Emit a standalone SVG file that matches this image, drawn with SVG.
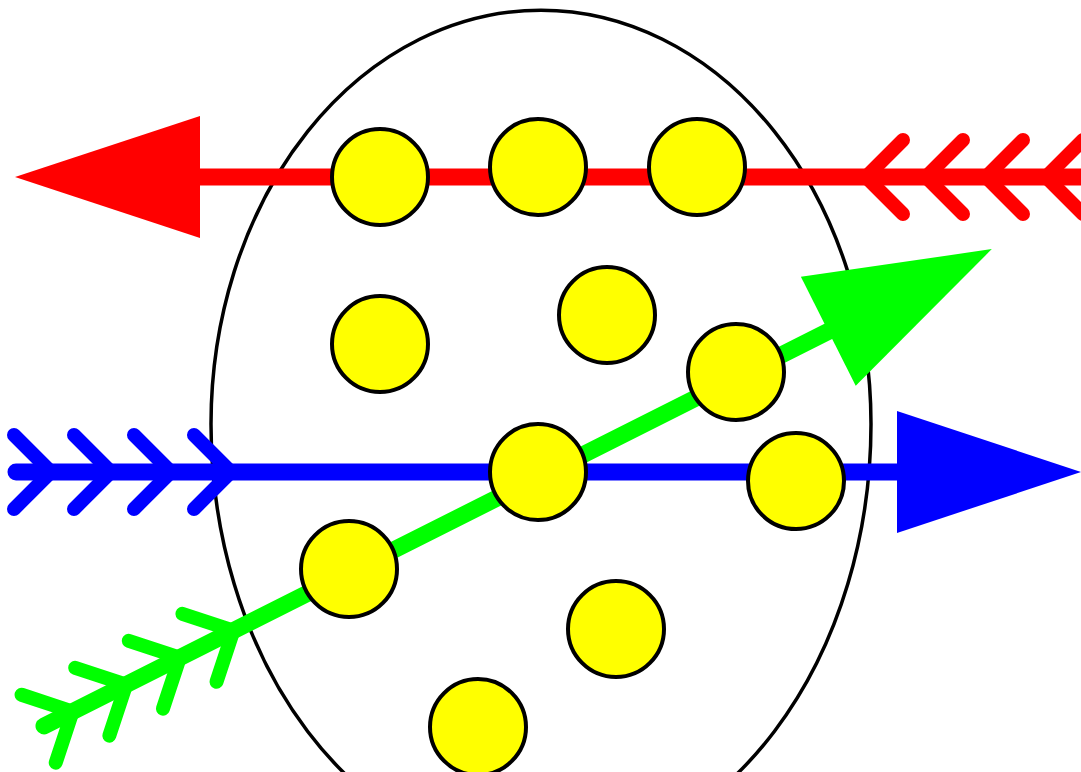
<svg xmlns="http://www.w3.org/2000/svg" width="1081" height="772" viewBox="0 0 1081 772">
  <style>
    .egg { fill: none; stroke: #000; stroke-width: 3.5; }
    .dot { fill: #ffff00; stroke: #000; stroke-width: 4; }
    .shaft { fill: none; stroke-width: 17; stroke-linecap: round; }
    .feather { fill: none; stroke-width: 14; stroke-linecap: round; stroke-linejoin: round; }
    .red { stroke: #ff0000; }
    .redf { fill: #ff0000; }
    .blue { stroke: #0000ff; }
    .bluef { fill: #0000ff; }
    .green { stroke: #00ff00; }
    .greenf { fill: #00ff00; }
  </style>
  <rect width="1081" height="772" fill="#ffffff"/>
  <g id="egg">
    <path class="egg" d="M 211,424 A 330 414 0 0 1 871,424 A 330 435 0 0 1 211,424 Z"/>
  </g>
  <g id="connectors">
    <g id="red-arrow">
      <line class="shaft red" x1="195" y1="177" x2="1095" y2="177" style="stroke-linecap:butt"/>
      <polygon class="redf" points="15,177 200,116 200,238"/>
      <polyline class="feather red" points="903,140 866,177 903,214"/>
      <polyline class="feather red" points="963,140 926,177 963,214"/>
      <polyline class="feather red" points="1023,140 986,177 1023,214"/>
      <polyline class="feather red" points="1083,140 1046,177 1083,214"/>
    </g>
    <g id="blue-arrow">
      <line class="shaft blue" x1="16" y1="472" x2="902" y2="472"/>
      <polygon class="bluef" points="1081,472 897,411 897,533"/>
      <polyline class="feather blue" points="14,435 51,472 14,509"/>
      <polyline class="feather blue" points="74,435 111,472 74,509"/>
      <polyline class="feather blue" points="134,435 171,472 134,509"/>
      <polyline class="feather blue" points="194,435 231,472 194,509"/>
    </g>
    <g id="green-arrow" transform="translate(44,726) rotate(-26.71)">
      <line class="shaft green" x1="0" y1="0" x2="883" y2="0"/>
      <polygon class="greenf" points="1061,0 878,-61 878,61"/>
      <polyline class="feather green" points="-6,-38 32,0 -6,38"/>
      <polyline class="feather green" points="54,-38 92,0 54,38"/>
      <polyline class="feather green" points="114,-38 152,0 114,38"/>
      <polyline class="feather green" points="174,-38 212,0 174,38"/>
    </g>
  </g>
  <g id="n1"><circle class="dot" cx="380" cy="177" r="48"/></g>
  <g id="n2"><circle class="dot" cx="538" cy="167" r="48"/></g>
  <g id="n3"><circle class="dot" cx="697" cy="167" r="48"/></g>
  <g id="n4"><circle class="dot" cx="380" cy="344" r="48"/></g>
  <g id="n5"><circle class="dot" cx="607" cy="315" r="48"/></g>
  <g id="n6"><circle class="dot" cx="736" cy="372" r="48"/></g>
  <g id="n7"><circle class="dot" cx="538" cy="472" r="48"/></g>
  <g id="n8"><circle class="dot" cx="796" cy="481" r="48"/></g>
  <g id="n9"><circle class="dot" cx="349" cy="569" r="48"/></g>
  <g id="n10"><circle class="dot" cx="616" cy="629" r="48"/></g>
  <g id="n11"><circle class="dot" cx="478" cy="727" r="48"/></g>
</svg>
